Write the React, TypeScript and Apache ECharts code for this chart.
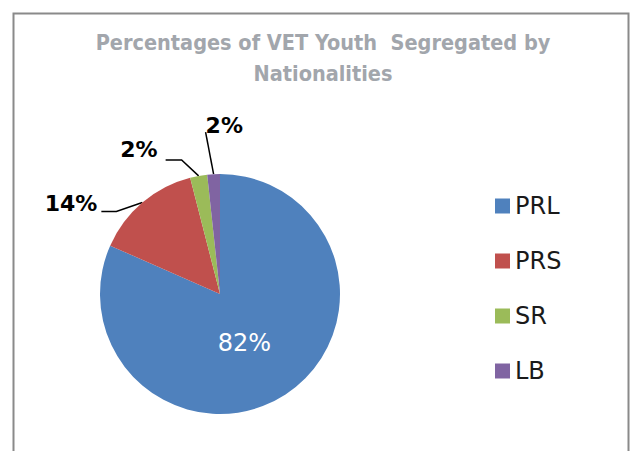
import { useEffect, useRef } from "react";
import * as echarts from "echarts";

const categories = ["PRL", "PRS", "SR", "LB"];
const values = [81.6, 14.4, 2.3, 1.7];
const colors = ["#4f81bd", "#c0504d", "#9bbb59", "#8064a2"];
const titleLines = ["Percentages of VET Youth  Segregated by", "Nationalities"];

export default function App() {
  const ref = useRef<HTMLDivElement>(null);
  useEffect(() => {
    const chart = echarts.init(ref.current!, null, { renderer: "svg" });
    chart.setOption({
      animation: false,
      backgroundColor: "#ffffff",
      title: {
        text: titleLines.join("\n"),
        left: 323,
        top: 27,
        textAlign: "center",
        padding: 0,
        textStyle: {
          color: "#a2a6ac",
          fontFamily: "'DejaVu Sans Condensed', sans-serif",
          fontWeight: "bold",
          fontSize: 21.5,
          lineHeight: 31,
        },
      },
      legend: {
        orient: "vertical",
        left: 495,
        top: 194,
        padding: 0,
        itemWidth: 15,
        itemHeight: 15,
        itemGap: 31,
        icon: "rect",
        selectedMode: false,
        data: categories,
        textStyle: { fontFamily: "DejaVu Sans", fontSize: 24, color: "#1a1a1a" },
      },
      graphic: [
        {
          type: "rect",
          silent: true,
          shape: { x: 13.5, y: 13.5, width: 615, height: 470 },
          style: { fill: "none", stroke: "#8a8a8a", lineWidth: 2 },
        },
      ],
      series: [
        {
          type: "pie",
          center: [220, 294],
          radius: 120,
          startAngle: 90,
          clockwise: true,
          avoidLabelOverlap: false,
          percentPrecision: 0,
          itemStyle: { borderWidth: 0 },
          emphasis: { disabled: true },
          label: {
            show: true,
            position: "outside",
            formatter: "{d}%",
            color: "#000000",
            fontFamily: "DejaVu Sans",
            fontWeight: "bold",
            fontSize: 22,
          },
          labelLine: {
            show: true,
            length: 10,
            length2: 20,
            lineStyle: { color: "#000000", width: 1.5 },
          },
          labelLayout: (p: any) => {
            const pts = p.labelLinePoints;
            if (p.dataIndex === 0) {
              const r = p.labelRect;
              return {
                x: r.x + r.width / 2 - 10,
                y: r.y + r.height / 2 - 4,
                align: "center",
                verticalAlign: "middle",
              };
            }
            if (!pts) return {};
            const s = pts[0];
            if (p.dataIndex === 1) {
              return {
                x: s[0] - 45,
                y: s[1] + 1,
                align: "right",
                verticalAlign: "middle",
                labelLinePoints: [s, [s[0] - 26, s[1] + 9], [s[0] - 41, s[1] + 9]],
              };
            }
            if (p.dataIndex === 2) {
              return {
                x: s[0] - 41,
                y: s[1] - 26,
                align: "right",
                verticalAlign: "middle",
                labelLinePoints: [s, [s[0] - 17, s[1] - 16], [s[0] - 33, s[1] - 16]],
              };
            }
            return {
              x: s[0] - 8,
              y: s[1] - 49,
              align: "left",
              verticalAlign: "middle",
              labelLinePoints: [s, [s[0] - 8, s[1] - 42], [s[0] - 8, s[1] - 42]],
            };
          },
          data: categories.map((name, i) => ({
            name,
            value: values[i],
            itemStyle: { color: colors[i] },
            ...(i === 0
              ? {
                  label: {
                    position: "inside",
                    color: "#ffffff",
                    fontWeight: "normal",
                    fontSize: 24,
                  },
                  labelLine: { show: false },
                }
              : {}),
          })),
        },
      ],
    });
    return () => chart.dispose();
  }, []);
  return (
    <div
      ref={ref}
      style={{ position: "fixed", left: 0, top: 0, width: 635, height: 451 }}
    />
  );
}
